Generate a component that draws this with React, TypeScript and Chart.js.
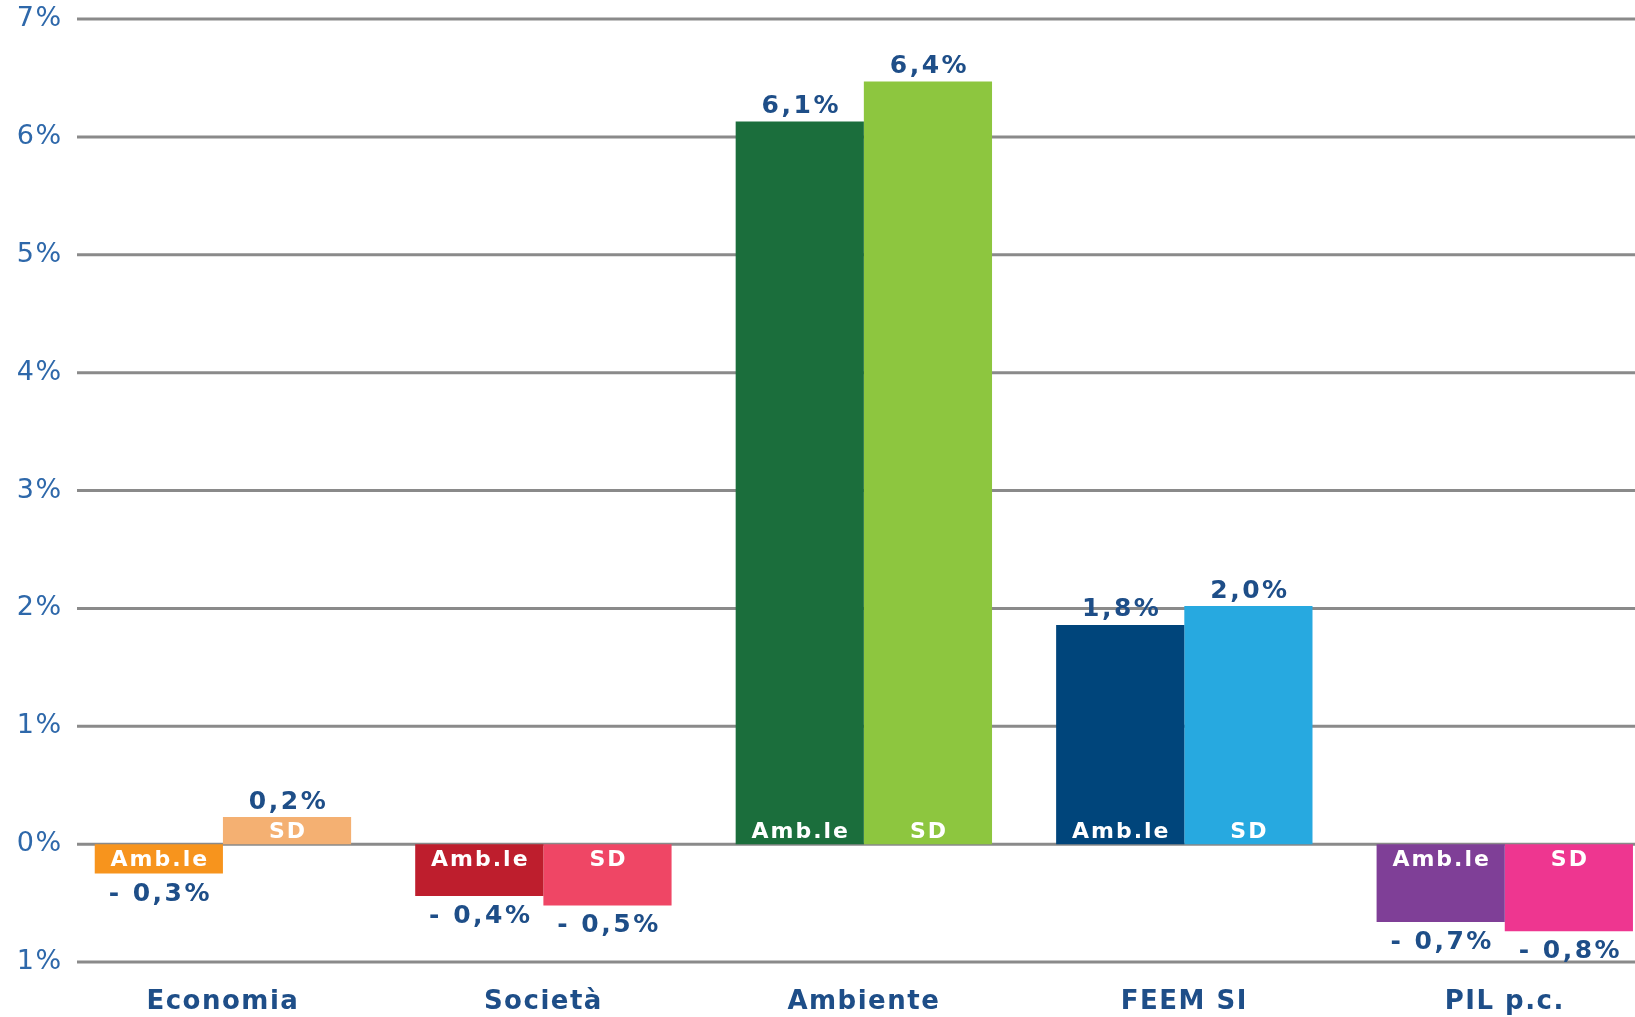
import React, { useEffect, useRef } from 'react';
import { Chart, registerables } from 'chart.js';

Chart.register(...registerables);

const categories = ['Economia', 'Società', 'Ambiente', 'FEEM SI', 'PIL p.c.'];
const seriesNames = ['Amb.le', 'SD'];
const ambValues = [-0.25, -0.44, 6.13, 1.86, -0.66];
const sdValues = [0.23, -0.52, 6.47, 2.02, -0.74];
const ambLabels = ['- 0,3%', '- 0,4%', '6,1%', '1,8%', '- 0,7%'];
const sdLabels = ['0,2%', '- 0,5%', '6,4%', '2,0%', '- 0,8%'];
const ambColors = ['#F7941D', '#BE1E2D', '#1B6E3C', '#00457B', '#7F3F97'];
const sdColors = ['#F4B072', '#EF4665', '#8DC63F', '#27A9E0', '#EE3690'];
const yMin = -1;
const yMax = 7;

const FONT = "'DejaVu Sans', sans-serif";
const VALUE_COLOR = '#1e4e88';
const TICK_COLOR = '#2e68aa';
const GRID_COLOR = '#8a8a8a';

export default function App() {
  const ref = useRef<HTMLCanvasElement>(null);

  useEffect(() => {
    const canvas = ref.current;
    if (!canvas) return;

    const spacingPlugin = {
      id: 'spacing',
      beforeDraw(chart: any) {
        chart.ctx.letterSpacing = '1.5px';
      },
    };

    const gridPlugin = {
      id: 'customGrid',
      beforeDatasetsDraw(chart: any) {
        const { ctx } = chart;
        const y = chart.scales.y;
        ctx.save();
        ctx.strokeStyle = GRID_COLOR;
        ctx.lineWidth = 3;
        y.ticks.forEach((t: any) => {
          const py = y.getPixelForValue(t.value);
          ctx.beginPath();
          ctx.moveTo(77, py);
          ctx.lineTo(chart.width, py);
          ctx.stroke();
        });
        ctx.restore();
      },
    };

    const labelPlugin = {
      id: 'barLabels',
      afterDatasetsDraw(chart: any) {
        const { ctx } = chart;
        const valueTexts = [ambLabels, sdLabels];
        chart.data.datasets.forEach((ds: any, di: number) => {
          const meta = chart.getDatasetMeta(di);
          meta.data.forEach((el: any, j: number) => {
            const v = ds.data[j];
            const { x, y, base } = el.getProps(['x', 'y', 'base'], true);
            ctx.save();
            ctx.textAlign = 'center';
            ctx.textBaseline = 'alphabetic';
            // inside label
            ctx.letterSpacing = '2px';
            ctx.font = `bold 22px ${FONT}`;
            ctx.fillStyle = '#ffffff';
            const innerY = v >= 0 ? base - 6 : base + 22;
            ctx.fillText(seriesNames[di], x + 1, innerY);
            // value label
            ctx.font = `bold 25px ${FONT}`;
            ctx.fillStyle = VALUE_COLOR;
            ctx.letterSpacing = '2.5px';
            const outY = v >= 0 ? y - 8.5 : y + 27;
            ctx.fillText(valueTexts[di][j], x + 1.5, outY);
            ctx.restore();
          });
        });
      },
    };

    const chart = new Chart(canvas, {
      type: 'bar',
      data: {
        labels: categories,
        datasets: [
          {
            label: seriesNames[0],
            data: ambValues,
            backgroundColor: ambColors,
            borderWidth: 0,
            barPercentage: 1,
            categoryPercentage: 0.8,
          },
          {
            label: seriesNames[1],
            data: sdValues,
            backgroundColor: sdColors,
            borderWidth: 0,
            barPercentage: 1,
            categoryPercentage: 0.8,
          },
        ],
      },
      options: {
        responsive: false,
        animation: false,
        devicePixelRatio: 1,
        layout: { padding: { top: 19, left: 0, right: 0, bottom: 0 } },
        plugins: {
          legend: { display: false },
          tooltip: { enabled: false },
        },
        scales: {
          x: {
            grid: { display: false, drawTicks: false },
            border: { display: false },
            ticks: {
              padding: 25,
              color: VALUE_COLOR,
              font: { family: FONT, size: 26, weight: 'bold' },
              maxRotation: 0,
              autoSkip: false,
            },
            afterFit(scale: any) {
              scale.height = 55;
            },
          },
          y: {
            min: yMin,
            max: yMax,
            grid: { display: false, drawTicks: false },
            border: { display: false },
            ticks: {
              stepSize: 1,
              padding: 0,
              color: TICK_COLOR,
              font: { family: FONT, size: 27 },
              callback: (v: any) => `${Math.abs(Number(v))}%`,
            },
            afterFit(scale: any) {
              scale.width = 62.7;
            },
          },
        },
      },
      plugins: [spacingPlugin, gridPlugin, labelPlugin],
    } as any);

    return () => chart.destroy();
  }, []);

  return (
    <div
      style={{
        position: 'fixed',
        left: 0,
        top: 0,
        width: 1635,
        height: 1017,
        overflow: 'hidden',
        background: '#ffffff',
      }}
    >
      <canvas ref={ref} width={1665} height={1017} style={{ display: 'block' }} />
    </div>
  );
}
